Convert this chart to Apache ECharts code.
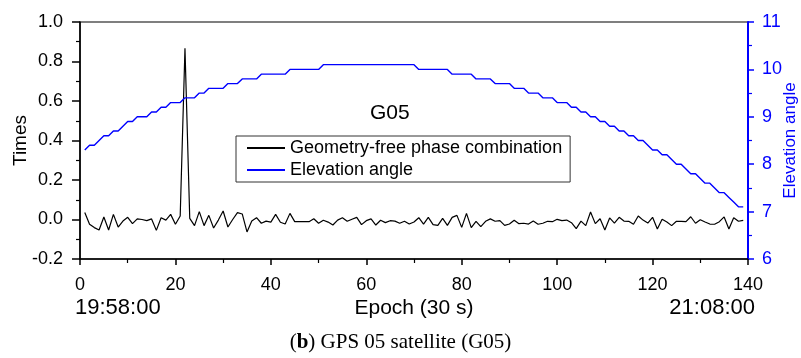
<!DOCTYPE html>
<html><head><meta charset="utf-8">
<script src="https://cdn.jsdelivr.net/npm/echarts@6/dist/echarts.min.js"></script>
<style>html,body{margin:0;padding:0;background:#fff}#c{width:801px;height:358px}</style>
</head><body><div id="c"></div>
<script>
// Epoch index starts at 1 (30 s per epoch)
const firstEpoch = 1;
// Geometry-free phase combination (Times), epochs 1..139
const gfValues = [
 0.035,-0.024,-0.041,-0.053,0.013,-0.053,0.026,-0.038,-0.008,0.011,
 -0.021,0.003,0.000,-0.006,0.003,-0.055,0.009,-0.003,0.026,-0.024,
 0.018,0.867,0.006,-0.031,0.040,-0.031,0.021,-0.043,-0.003,0.043,
 -0.038,0.000,0.035,0.028,-0.063,-0.008,0.009,-0.019,-0.008,-0.013,
 0.026,-0.014,-0.023,0.031,-0.011,-0.011,-0.011,-0.011,0.004,-0.019,
 -0.004,-0.013,-0.028,-0.003,0.009,-0.009,0.001,0.011,-0.026,-0.006,
 0.003,-0.028,-0.004,-0.016,-0.006,-0.008,-0.019,-0.009,-0.023,-0.013,
 0.009,-0.023,0.011,-0.026,-0.030,0.006,-0.030,0.011,0.021,-0.040,
 0.031,-0.041,-0.009,-0.036,-0.009,0.003,-0.009,-0.006,-0.030,-0.023,
 -0.004,-0.021,-0.019,-0.023,-0.008,-0.024,-0.019,-0.009,-0.011,0.001,
 -0.006,-0.003,-0.016,-0.046,-0.008,-0.031,0.038,-0.021,0.004,-0.053,
 0.008,-0.018,0.011,-0.008,-0.009,-0.024,0.018,-0.003,-0.018,0.011,
 -0.048,0.001,-0.013,-0.031,-0.009,-0.009,-0.011,0.014,-0.019,-0.001,
 -0.013,-0.023,-0.024,-0.011,0.013,-0.048,0.009,-0.009,-0.004
];
// Elevation angle (degrees), epochs 1..139
const elevValues = [
 8.3,8.4,8.4,8.5,8.6,8.6,8.7,8.7,8.8,8.9,
 8.9,9.0,9.0,9.0,9.1,9.1,9.2,9.2,9.3,9.3,
 9.3,9.4,9.4,9.4,9.5,9.5,9.6,9.6,9.6,9.6,
 9.7,9.7,9.7,9.8,9.8,9.8,9.8,9.9,9.9,9.9,
 9.9,9.9,9.9,10.0,10.0,10.0,10.0,10.0,10.0,10.0,
 10.1,10.1,10.1,10.1,10.1,10.1,10.1,10.1,10.1,10.1,
 10.1,10.1,10.1,10.1,10.1,10.1,10.1,10.1,10.1,10.1,
 10.0,10.0,10.0,10.0,10.0,10.0,10.0,9.9,9.9,9.9,
 9.9,9.9,9.8,9.8,9.8,9.8,9.7,9.7,9.7,9.7,
 9.6,9.6,9.6,9.5,9.5,9.5,9.4,9.4,9.4,9.3,
 9.3,9.3,9.2,9.2,9.1,9.1,9.0,9.0,8.9,8.9,
 8.8,8.8,8.7,8.7,8.6,8.6,8.5,8.5,8.4,8.3,
 8.3,8.2,8.2,8.1,8.0,8.0,7.9,7.8,7.8,7.7,
 7.6,7.6,7.5,7.4,7.4,7.3,7.2,7.1,7.1
];
const seriesNames = ['Geometry-free phase combination', 'Elevation angle'];
const startTime = '19:58:00';
const endTime = '21:08:00';
const satLabel = 'G05';

const FONT = '"Liberation Sans", Arial, sans-serif';
const SERIF = '"Liberation Serif", "DejaVu Serif", serif';
const gfData = gfValues.map((v, i) => [firstEpoch + i, v]);
const elevData = elevValues.map((v, i) => [firstEpoch + i, v]);

const chart = echarts.init(document.getElementById('c'), null, {renderer: 'canvas'});
chart.setOption({
  animation: false,
  backgroundColor: '#fff',
  textStyle: {fontFamily: FONT},
  grid: {left: 80, right: 53, top: 22, bottom: 99, containLabel: false, outerBoundsMode: 'none',
    show: true, borderColor: '#000', borderWidth: 1.2, backgroundColor: 'transparent'},
  title: {
    text: '({b|b}) GPS 05 satellite (G05)',
    left: 'center', top: 327,
    textStyle: {fontFamily: SERIF, fontSize: 21, fontWeight: 'normal', color: '#000',
      rich: {b: {fontFamily: SERIF, fontSize: 21, fontWeight: 'bold', color: '#000'}}}
  },
  legend: {
    data: seriesNames,
    orient: 'vertical',
    left: 236, top: 136,
    padding: [3, 8, 3, 10],
    itemGap: 4,
    itemWidth: 38, itemHeight: 14,
    borderColor: '#333', borderWidth: 1,
    itemStyle: {opacity: 0},
    textStyle: {fontFamily: FONT, fontSize: 18, color: '#000', width: 275},
    selectedMode: false
  },
  graphic: [
    {type: 'text', left: 75, top: 297, style: {text: startTime, font: '22px ' + FONT, fill: '#000'}},
    {type: 'text', right: 46, top: 297, style: {text: endTime, font: '22px ' + FONT, fill: '#000'}},
    {type: 'text', left: 370, top: 103, style: {text: satLabel, font: '21px ' + FONT, fill: '#000'}}
  ],
  xAxis: {
    type: 'value', min: 0, max: 140, interval: 20,
    name: 'Epoch (30 s)', nameLocation: 'middle', nameGap: 39, nameMoveOverlap: false,
    nameTextStyle: {fontFamily: FONT, fontSize: 21, color: '#000'},
    axisLine: {onZero: false, lineStyle: {color: '#000', width: 1.5}},
    axisTick: {show: true, inside: false, length: 6, lineStyle: {color: '#000', width: 1.5}},
    minorTick: {show: true, splitNumber: 2, length: 4, lineStyle: {color: '#000', width: 1.2}},
    axisLabel: {fontFamily: FONT, fontSize: 18, color: '#000', margin: 17},
    splitLine: {show: false}
  },
  yAxis: [{
    type: 'value', min: -0.2, max: 1.0, interval: 0.2,
    name: 'Times', nameLocation: 'middle', nameGap: 50, nameRotate: 90, nameMoveOverlap: false,
    nameTextStyle: {fontFamily: FONT, fontSize: 19, color: '#000'},
    axisLine: {show: true, onZero: false, lineStyle: {color: '#000', width: 1.5}},
    axisTick: {show: true, inside: false, length: 8, lineStyle: {color: '#000', width: 1.5}},
    minorTick: {show: true, splitNumber: 2, length: 4, lineStyle: {color: '#000', width: 1.2}},
    axisLabel: {fontFamily: FONT, fontSize: 18, color: '#000', margin: 17, formatter: v => v.toFixed(1)},
    splitLine: {show: false}
  }, {
    type: 'value', min: 6, max: 11, interval: 1, position: 'right',
    name: 'Elevation angle', nameLocation: 'middle', nameGap: 34, nameRotate: 90, nameMoveOverlap: false,
    nameTextStyle: {fontFamily: FONT, fontSize: 17, color: '#0000ff'},
    axisLine: {show: true, onZero: false, lineStyle: {color: '#0000ff', width: 2}},
    axisTick: {show: true, inside: false, length: 6, lineStyle: {color: '#0000ff', width: 1.5}},
    minorTick: {show: true, splitNumber: 2, length: 4, lineStyle: {color: '#0000ff', width: 1.2}},
    axisLabel: {fontFamily: FONT, fontSize: 18, color: '#0000ff', margin: 14},
    splitLine: {show: false}
  }],
  series: [{
    name: seriesNames[0], type: 'line', data: gfData, yAxisIndex: 0,
    symbol: 'none', lineStyle: {color: '#000', width: 1.2}, itemStyle: {color: '#000'}
  }, {
    name: seriesNames[1], type: 'line', data: elevData, yAxisIndex: 1,
    symbol: 'none', lineStyle: {color: '#0000ff', width: 1.4}, itemStyle: {color: '#0000ff'}
  }]
});
</script></body></html>
